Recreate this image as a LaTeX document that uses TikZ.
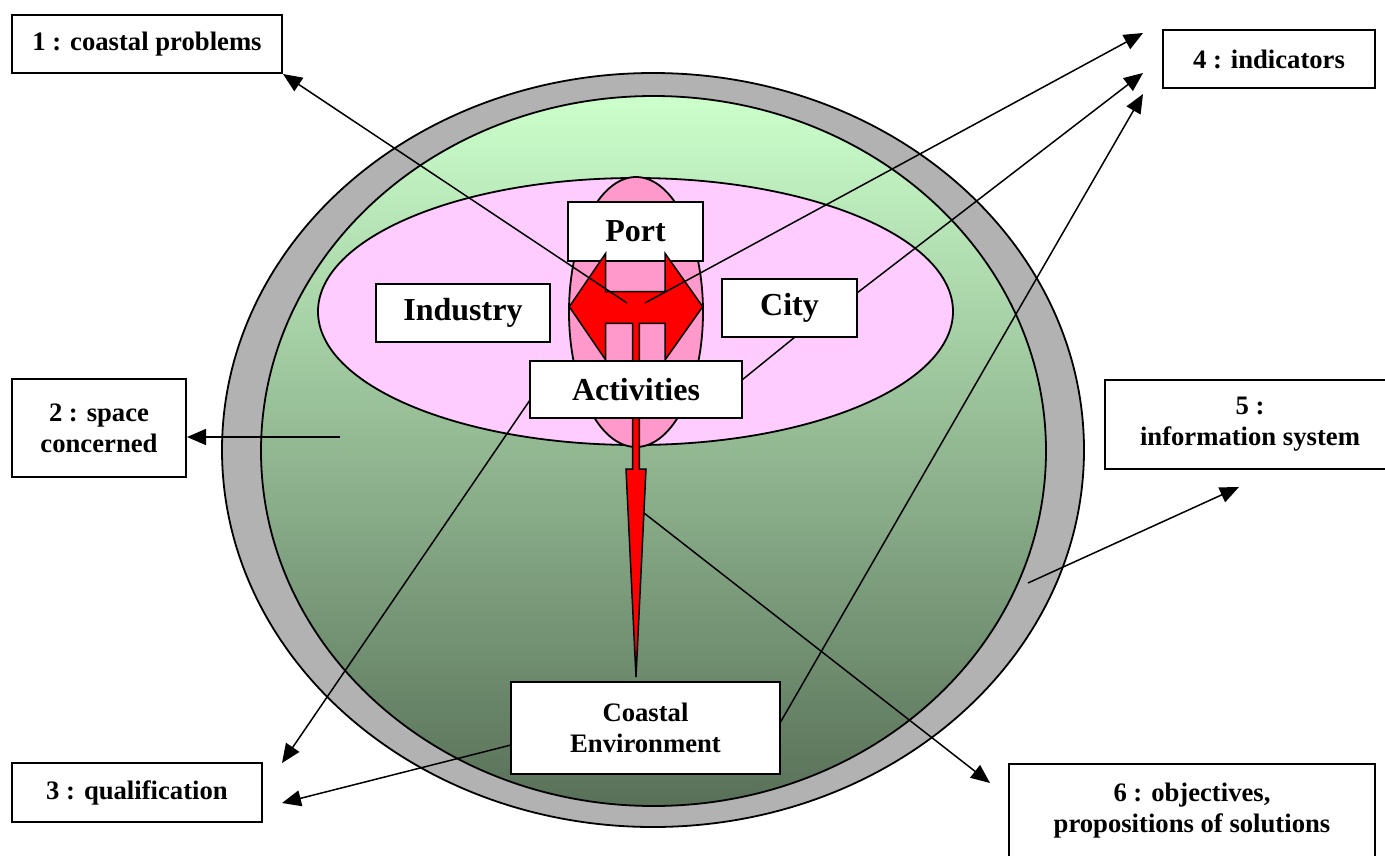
\documentclass[tikz,border=0pt]{standalone}
\usepackage{fontspec}
\setmainfont{Liberation Serif}
\usetikzlibrary{arrows.meta}
\definecolor{ringgray}{RGB}{178,178,178}
\definecolor{pinkbig}{RGB}{255,204,255}
\definecolor{pinksmall}{RGB}{255,153,204}
\definecolor{greentop}{RGB}{204,255,204}
\definecolor{greenbot}{RGB}{88,112,88}
\begin{document}
\begin{tikzpicture}[x=1pt,y=-1pt,
  box/.style={draw, fill=white, line width=1.5pt, inner sep=0pt, align=center,
    font=\bfseries\fontsize{26.67}{31}\selectfont},
  bigbox/.style={box, font=\bfseries\fontsize{32}{36}\selectfont},
  conn/.style={line width=1.5pt, -{Triangle[length=19pt,width=16pt]}},
  plain/.style={line width=1.5pt},
  shp/.style={draw, line width=1.8pt}]
\clip (0,0) rectangle (1385,855);
\fill[white] (0,0) rectangle (1385,855);
% outer ring and green area
\draw[shp, fill=ringgray] (653,450) ellipse [x radius=431, y radius=377];
\shade[top color=greentop, bottom color=greenbot] (653.5,451) ellipse [x radius=392.5, y radius=355];
\draw[shp] (653.5,451) ellipse [x radius=392.5, y radius=355];
% pink ellipses
\draw[shp, fill=pinkbig] (635.5,311.5) ellipse [x radius=317.5, y radius=133.5];
\draw[shp, fill=pinksmall] (636,312) ellipse [x radius=67, y radius=135];
% inner boxes
\node[bigbox, minimum width=135pt, minimum height=59pt] (port) at (635.5,231.5) {Port};
\node[bigbox, minimum width=174pt, minimum height=58pt] (ind) at (463,313) {Industry};
\node[bigbox, minimum width=135pt, minimum height=58pt] (city) at (789.5,308) {City};
% red shape
\draw[line width=1.5pt, fill=red, line join=miter]
  (569.3,306.7) -- (605.7,253.3) -- (605.7,291.7) -- (665,291.7) -- (665,253.3)
  -- (702.7,306.7) -- (665,360) -- (665,323.3) -- (639.3,323.3) -- (639.3,469)
  -- (646,469) -- (636,677) -- (626,469) -- (632.7,469) -- (632.7,323.3)
  -- (605.7,323.3) -- (605.7,360) -- cycle;
\node[bigbox, minimum width=212pt, minimum height=57pt] (act) at (636,389.5) {Activities};
\node[box, minimum width=269pt, minimum height=92pt] (env) at (645.5,728) {Coastal\\Environment};
% outer boxes
\node[box, minimum width=270pt, minimum height=58pt] (b1) at (147,44) {1 : coastal problems};
\node[box, minimum width=174pt, minimum height=98pt] (b2) at (99,428) {2 : space\\concerned};
\node[box, minimum width=250pt, minimum height=59pt] (b3) at (137,792.5) {3 : qualification};
\node[box, minimum width=212pt, minimum height=58pt] (b4) at (1269,59) {4 : indicators};
\node[box, minimum width=290pt, minimum height=89pt] (b5) at (1250,424.5) {5 :\\information system};
\node[box, minimum width=366pt, minimum height=94pt] (b6) at (1192,811) {6 : objectives,\\propositions of solutions};
% connector end points
\coordinate (s1) at (627,303);
\coordinate (t1) at (283,74);
\coordinate (s2) at (645,303);
\coordinate (t2) at (1143,33);
\coordinate (s3) at (857,293);
\coordinate (t3) at (1143,73);
\coordinate (s4) at (780,723);
\coordinate (t4) at (1143,94);
\coordinate (s5) at (1028,583);
\coordinate (t5) at (1239,487);
\coordinate (s6) at (644,513);
\coordinate (t6) at (990,783);
\coordinate (s7) at (340,437);
\coordinate (t7) at (187,437);
\coordinate (s8) at (530,400);
\coordinate (t8) at (282,763);
\coordinate (s9) at (511,745);
\coordinate (t9) at (282,803);
\coordinate (s10) at (742,380);
\coordinate (t10) at (795,337);
% connectors
\draw[conn] (s1) -- (t1);
\draw[conn] (s2) -- (t2);
\draw[conn] (s3) -- (t3);
\draw[conn] (s4) -- (t4);
\draw[conn] (s5) -- (t5);
\draw[conn] (s6) -- (t6);
\draw[conn] (s7) -- (t7);
\draw[conn] (s8) -- (t8);
\draw[conn] (s9) -- (t9);
\draw[plain] (s10) -- (t10);
\end{tikzpicture}
\end{document}
